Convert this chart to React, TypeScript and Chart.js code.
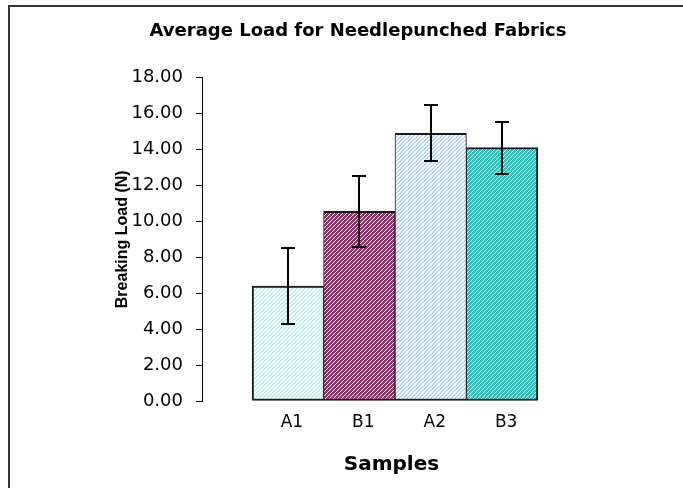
import React, { useEffect, useRef } from "react";
import { Chart, registerables } from "chart.js";

Chart.register(...registerables);

// ---- data ----
const categories = ["A1", "B1", "A2", "B3"];
const positions = [1, 2, 3, 4];
const meanLoad = [6.4, 10.55, 14.9, 14.1];
const errLoad = [2.1, 2.0, 1.55, 1.45];
const yTickValues = [0, 2, 4, 6, 8, 10, 12, 14, 16, 18];

const titleText = "Average Load for Needlepunched Fabrics";
const xTitle = "Samples";
const yTitle = "Breaking Load (N)";

// ---- styles ----
const WIDE = "'DejaVu Sans', Verdana, sans-serif";
const NARROW = "'Liberation Sans', Arial, Helvetica, sans-serif";
const hatchColors = ["#c0f2f2", "#993366", "#b4d6ff", "#33c2ba"];
const hatchCover = [2, 3, 2, 3];

function makeHatch(color: string, cover: number): CanvasPattern {
  const c = document.createElement("canvas");
  c.width = 4;
  c.height = 4;
  const g = c.getContext("2d")!;
  g.fillStyle = "#ffffff";
  g.fillRect(0, 0, 4, 4);
  g.fillStyle = color;
  for (let y = 0; y < 4; y++) {
    for (let x = 0; x < 4; x++) {
      if ((x + y) % 4 < cover) g.fillRect(x, y, 1, 1);
    }
  }
  return g.createPattern(c, "repeat")!;
}

const framePlugin = {
  id: "frame",
  beforeDraw(chart: any) {
    const ctx = chart.ctx;
    ctx.save();
    ctx.fillStyle = "#ffffff";
    ctx.fillRect(0, 0, chart.width, chart.height);
    ctx.strokeStyle = "#333333";
    ctx.lineWidth = 2;
    ctx.strokeRect(9, 6, chart.width + 40, chart.height + 40);
    ctx.restore();
  },
};

const errorBarPlugin = {
  id: "errorBars",
  afterDatasetsDraw(chart: any) {
    const ctx = chart.ctx;
    const meta = chart.getDatasetMeta(0);
    const ys = chart.scales.y;
    ctx.save();
    ctx.strokeStyle = "#000000";
    ctx.lineWidth = 2;
    meta.data.forEach((bar: any, i: number) => {
      const x = Math.round(bar.x);
      const top = Math.round(ys.getPixelForValue(meanLoad[i] + errLoad[i]));
      const bot = Math.round(ys.getPixelForValue(meanLoad[i] - errLoad[i]));
      ctx.beginPath();
      ctx.moveTo(x, top);
      ctx.lineTo(x, bot);
      ctx.moveTo(x - 7, top);
      ctx.lineTo(x + 7, top);
      ctx.moveTo(x - 7, bot);
      ctx.lineTo(x + 7, bot);
      ctx.stroke();
    });
    ctx.restore();
  },
};

export default function App() {
  const ref = useRef<HTMLCanvasElement>(null);

  useEffect(() => {
    const canvas = ref.current!;
    const patterns = hatchColors.map((c, i) => makeHatch(c, hatchCover[i]));
    const n = categories.length;

    const chart = new Chart(canvas, {
      type: "bar",
      data: {
        datasets: [
          {
            data: positions.map((p, i) => ({ x: p, y: meanLoad[i] })),
            backgroundColor: patterns as any,
            borderColor: "#1a1a1a",
            borderWidth: ((c: any) => ({
              top: 2,
              bottom: 2,
              left: c.dataIndex === 0 ? 2 : 1,
              right: c.dataIndex === n - 1 ? 2 : 1,
            })) as any,
            borderSkipped: false,
            barPercentage: 1,
            categoryPercentage: 1,
          },
        ],
      },
      options: {
        animation: false,
        responsive: false,
        devicePixelRatio: 1,
        layout: { padding: { left: 33, right: 0, top: 0, bottom: 0 } },
        plugins: {
          legend: { display: false },
          tooltip: { enabled: false },
          title: {
            display: true,
            text: titleText,
            color: "#000000",
            font: { family: WIDE, size: 18, weight: "bold" },
            padding: { top: 21, bottom: 35 },
          },
        },
        scales: {
          x: {
            type: "linear",
            offset: false,
            min: -0.2018,
            max: 5.1035,
            afterBuildTicks: (s: any) => {
              s.ticks = positions.map((v) => ({ value: v }));
            },
            afterFit: (s: any) => {
              s.height = 87;
            },
            ticks: {
              autoSkip: false,
              maxRotation: 0,
              padding: 11,
              labelOffset: 4,
              color: "#000000",
              font: { family: WIDE, size: 17 },
              callback: (v: any) => {
                const k = positions.indexOf(Number(v));
                return k >= 0 ? categories[k] : "";
              },
            },
            grid: { display: false, drawTicks: false },
            border: { display: false },
            title: {
              display: true,
              text: xTitle,
              color: "#000000",
              font: { family: WIDE, size: 20, weight: "bold" },
              padding: { top: 0, bottom: 11 },
            },
          },
          y: {
            type: "linear",
            min: 0,
            max: 18,
            afterBuildTicks: (s: any) => {
              s.ticks = yTickValues.map((v) => ({ value: v }));
            },
            afterFit: (s: any) => {
              s.width = 169;
            },
            ticks: {
              padding: 13,
              color: "#000000",
              font: { family: WIDE, size: 18 },
              callback: (v: any) => Number(v).toFixed(2),
            },
            grid: {
              display: true,
              drawOnChartArea: false,
              drawTicks: true,
              tickLength: 6,
              color: "#000000",
            },
            border: { display: true, color: "#000000", width: 1 },
            title: {
              display: true,
              text: yTitle,
              color: "#000000",
              font: { family: NARROW, size: 16, weight: "bold" },
              padding: { top: 80, bottom: 0 },
            },
          },
          y2: {
            type: "linear",
            position: "right",
            display: true,
            afterFit: (s: any) => {
              s.width = 102;
            },
            ticks: { display: false },
            grid: { display: false, drawTicks: false },
            border: { display: false },
          },
        },
      },
      plugins: [framePlugin, errorBarPlugin],
    });

    return () => chart.destroy();
  }, []);

  return (
    <canvas
      ref={ref}
      width={683}
      height={488}
      style={{ position: "fixed", left: 0, top: 0, width: 683, height: 488, display: "block" }}
    />
  );
}
